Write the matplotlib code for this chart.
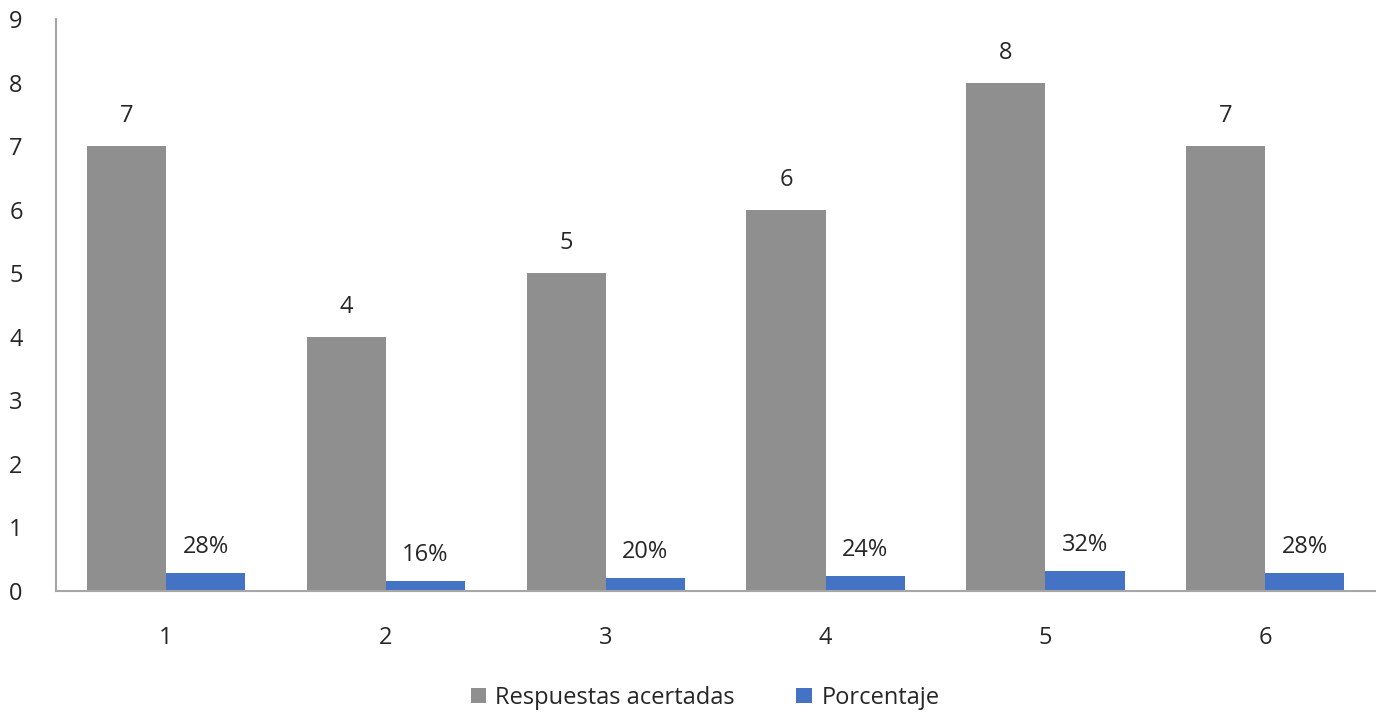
import matplotlib.pyplot as plt
import numpy as np

plt.rcParams["font.family"] = ["Open Sans", "DejaVu Sans"]

# Data
categories = ["1", "2", "3", "4", "5", "6"]
correct_answers = [7, 4, 5, 6, 8, 7]
percentages = [0.28, 0.16, 0.20, 0.24, 0.32, 0.28]
percent_labels = ["28%", "16%", "20%", "24%", "32%", "28%"]

GRAY = "#8f8f8f"
BLUE = "#4472c4"
AXIS = "#a6a6a6"
TEXT = "#262626"

fig = plt.figure(figsize=(13.77, 7.15), dpi=100)
ax = fig.add_axes([0.0407, 0.1734, 0.958, 0.8])

x = np.arange(len(categories))
width = 0.36
bars1 = ax.bar(x - width / 2, correct_answers, width, color=GRAY, label="Respuestas acertadas")
bars2 = ax.bar(x + width / 2, percentages, width, color=BLUE, label="Porcentaje")

for rect, val in zip(bars1, correct_answers):
    ax.annotate(str(val), (rect.get_x() + rect.get_width() / 2, rect.get_height()),
                xytext=(0, 13), textcoords="offset points", ha="center", va="bottom",
                fontsize=17, color=TEXT)
for rect, lab in zip(bars2, percent_labels):
    ax.annotate(lab, (rect.get_x() + rect.get_width() / 2, rect.get_height()),
                xytext=(0, 10), textcoords="offset points", ha="center", va="bottom",
                fontsize=17, color=TEXT)

ax.set_xlim(-0.5, len(categories) - 0.5)
ax.set_ylim(0, 9)
ax.set_yticks(range(0, 10))
ax.set_xticks(x)
ax.set_xticklabels(categories)
ax.tick_params(axis="both", length=0, labelsize=17, colors=TEXT)
ax.tick_params(axis="x", pad=25)
ax.tick_params(axis="y", pad=24)

for side in ["top", "right"]:
    ax.spines[side].set_visible(False)
for side in ["left", "bottom"]:
    ax.spines[side].set_color(AXIS)
    ax.spines[side].set_linewidth(1.5)

fig.legend(loc="center", bbox_to_anchor=(0.512, 0.024), ncol=2, frameon=False,
           fontsize=17, handlelength=0.65, handleheight=0.65, handletextpad=0.4,
           columnspacing=2.6, labelcolor=TEXT)

fig.savefig("out.png", dpi=100)
